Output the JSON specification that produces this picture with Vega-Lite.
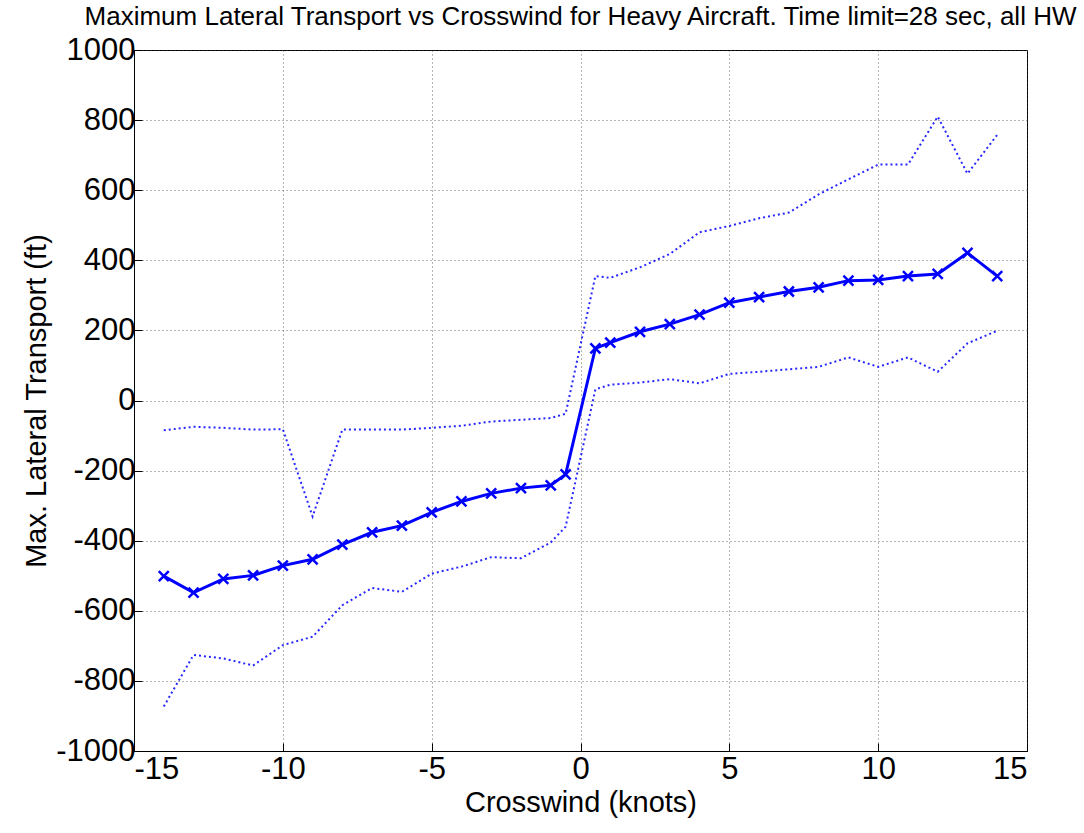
{
  "$schema": "https://vega.github.io/schema/vega-lite/v6.json",
  "autosize": "none",
  "width": 893,
  "height": 701,
  "padding": {"left": 134, "top": 50, "right": 57, "bottom": 82},
  "background": "white",
  "title": {
    "text": "Maximum Lateral Transport vs Crosswind for Heavy Aircraft. Time limit=28 sec, all HW",
    "font": "Liberation Sans",
    "fontSize": 26,
    "fontWeight": "normal",
    "color": "black",
    "anchor": "middle",
    "offset": 4
  },
  "config": {
    "view": {"stroke": "black", "strokeWidth": 1},
    "axis": {
      "labelFont": "Liberation Sans",
      "titleFont": "Liberation Sans",
      "labelFontSize": 31,
      "titleFontSize": 29,
      "titleFontWeight": "normal",
      "labelColor": "black",
      "titleColor": "black",
      "domainColor": "black",
      "tickColor": "black",
      "gridColor": "#444444",
      "gridDash": [1, 3],
      "gridWidth": 1,
      "gridOpacity": 0.8
    }
  },
  "data": {
    "values": [
      {"cw": -14, "mean": -501, "hi": -85, "lo": -873},
      {"cw": -13, "mean": -548, "hi": -75, "lo": -726},
      {"cw": -12, "mean": -509, "hi": -78, "lo": -736},
      {"cw": -11, "mean": -499, "hi": -83, "lo": -756},
      {"cw": -10, "mean": -471, "hi": -82, "lo": -698},
      {"cw": -9, "mean": -453, "hi": -331, "lo": -674},
      {"cw": -8, "mean": -411, "hi": -83, "lo": -584},
      {"cw": -7, "mean": -376, "hi": -83, "lo": -535},
      {"cw": -6, "mean": -357, "hi": -83, "lo": -546},
      {"cw": -5, "mean": -319, "hi": -78, "lo": -494},
      {"cw": -4, "mean": -288, "hi": -72, "lo": -474},
      {"cw": -3, "mean": -265, "hi": -60, "lo": -447},
      {"cw": -2, "mean": -250, "hi": -55, "lo": -450},
      {"cw": -1, "mean": -242, "hi": -50, "lo": -405},
      {"cw": -0.5, "mean": -211, "hi": -38, "lo": -360},
      {"cw": 0.5, "mean": 149, "hi": 355, "lo": 32},
      {"cw": 1, "mean": 165, "hi": 350, "lo": 45},
      {"cw": 2, "mean": 196, "hi": 380, "lo": 51},
      {"cw": 3, "mean": 218, "hi": 418, "lo": 61},
      {"cw": 4, "mean": 245, "hi": 480, "lo": 49},
      {"cw": 5, "mean": 279, "hi": 498, "lo": 76},
      {"cw": 6, "mean": 295, "hi": 520, "lo": 82},
      {"cw": 7, "mean": 311, "hi": 536, "lo": 89},
      {"cw": 8, "mean": 323, "hi": 588, "lo": 96},
      {"cw": 9, "mean": 342, "hi": 631, "lo": 123},
      {"cw": 10, "mean": 344, "hi": 673, "lo": 96},
      {"cw": 11, "mean": 355, "hi": 673, "lo": 123},
      {"cw": 12, "mean": 361, "hi": 810, "lo": 82},
      {"cw": 13, "mean": 421, "hi": 647, "lo": 163},
      {"cw": 14, "mean": 355, "hi": 758, "lo": 199}
    ]
  },
  "encoding": {
    "x": {
      "field": "cw",
      "type": "quantitative",
      "scale": {"domain": [-15, 15], "nice": false, "zero": false},
      "axis": {
        "title": "Crosswind (knots)",
        "values": [-15, -10, -5, 0, 5, 10, 15],
        "labelExpr": "datum.value + ''",
        "grid": true,
        "tickSize": -8,
        "labelPadding": 11,
        "titlePadding": 4
      }
    }
  },
  "layer": [
    {
      "mark": {"type": "line", "color": "#0000ff", "strokeWidth": 2, "strokeDash": [2, 3], "opacity": 0.85},
      "encoding": {"y": {"field": "hi", "type": "quantitative",
        "scale": {"domain": [-1000, 1000], "nice": false},
        "axis": {
          "title": "Max. Lateral Transport (ft)",
          "values": [-1000, -800, -600, -400, -200, 0, 200, 400, 600, 800, 1000],
          "labelExpr": "datum.value + ''",
          "grid": true,
          "tickSize": -8,
          "labelPadding": 7,
          "titlePadding": 4
        }}}
    },
    {
      "mark": {"type": "line", "color": "#0000ff", "strokeWidth": 2, "strokeDash": [2, 3], "opacity": 0.85},
      "encoding": {"y": {"field": "lo", "type": "quantitative"}}
    },
    {
      "mark": {"type": "line", "color": "#0000ff", "strokeWidth": 3},
      "encoding": {"y": {"field": "mean", "type": "quantitative"}}
    },
    {
      "mark": {"type": "point", "shape": "M-1,-1L1,1M-1,1L1,-1", "filled": false, "color": "#0000ff", "strokeWidth": 2.5, "size": 100, "opacity": 1},
      "encoding": {"y": {"field": "mean", "type": "quantitative"}}
    }
  ]
}
